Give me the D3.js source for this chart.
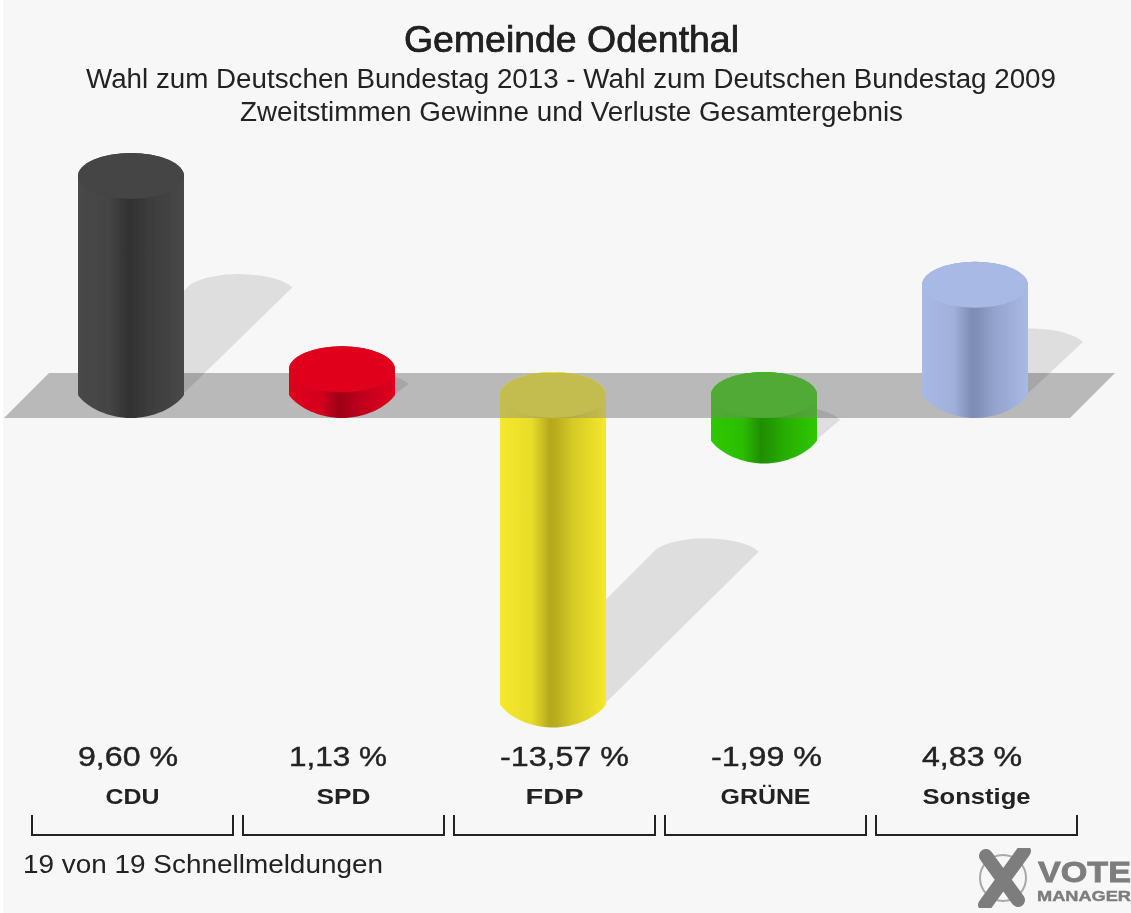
<!DOCTYPE html>
<html>
<head>
<meta charset="utf-8">
<script src="https://cdn.jsdelivr.net/npm/d3@7"></script>
<style>
  html, body { margin: 0; padding: 0; background: #fff; }
  svg { display: block; }
  text { font-family: "Liberation Sans", Arial, sans-serif; fill: #222; }
</style>
</head>
<body>
<div id="chart"></div>
<script>
// Werte
const parteien = ["CDU", "SPD", "FDP", "GRÜNE", "Sonstige"];
const werte = [9.60, 1.13, -13.57, -1.99, 4.83];
const werteText = ["9,60 %", "1,13 %", "-13,57 %", "-1,99 %", "4,83 %"];
const titelZeilen = [
  "Gemeinde Odenthal",
  "Wahl zum Deutschen Bundestag 2013 - Wahl zum Deutschen Bundestag 2009",
  "Zweitstimmen Gewinne und Verluste Gesamtergebnis"
];
const fussnote = "19 von 19 Schnellmeldungen";

// Farben: Rand, Mitte, Deckel
const farben = [
  ["#484848", "#323232", "#444444"],
  ["#e0001f", "#a00018", "#e0001f"],
  ["#f5e92c", "#b5a81e", "#f3e82c"],
  ["#2fc800", "#1f9000", "#2fc800"],
  ["#a9b9e5", "#7c8cb2", "#a9b9e5"]
];

const width = 1131, height = 913;
const rx = 53, ry = 23;

const svg = d3.select("#chart").append("svg")
  .attr("width", width)
  .attr("height", height);

const defs = svg.append("defs");
defs.append("filter").attr("id", "weich")
  .attr("x", "-5%").attr("y", "-5%").attr("width", "110%").attr("height", "110%")
  .append("feGaussianBlur").attr("stdDeviation", 0.75);

const x = d3.scaleBand()
  .domain(parteien)
  .range([32, 1077])
  .paddingInner(10 / 211);

// 0 liegt auf der Mitte des grauen Bandes
const y = d3.scaleLinear()
  .domain([0, 9.6])
  .range([395, 176]);

const mitte = d => x(d) + x.bandwidth() / 2 - 1.5;

const daten = parteien.map((p, i) => ({
  partei: p, wert: werte[i], text: werteText[i], farbe: farben[i], i: i
}));

farben.forEach((f, i) => {
  const mix = d3.interpolateRgb(f[0], f[1]);
  const g = defs.append("linearGradient").attr("id", "saeule" + i)
    .attr("x1", 0).attr("x2", 1).attr("y1", 0).attr("y2", 0);
  [[0, f[0]], [0.3, mix(0.2)], [0.47, f[1]], [0.54, mix(0.9)], [0.68, mix(0.5)], [1, f[0]]]
    .forEach(s => g.append("stop").attr("offset", s[0]).attr("stop-color", s[1]));
});

svg.append("rect")
  .attr("x", 3).attr("y", 0)
  .attr("width", width - 3).attr("height", height)
  .attr("fill", "#f7f7f7");

const bild = svg.append("g").attr("filter", "url(#weich)");

const bandPfad = `M4,418L49,373H${1115}L${1070},418Z`;
bild.append("path").attr("d", bandPfad).attr("fill", "#b9b9b9");
defs.append("clipPath").attr("id", "bandClip").append("path").attr("d", bandPfad);

// Schatten
bild.selectAll("path.schatten")
  .data(daten)
  .enter()
  .append("path")
  .attr("class", "schatten")
  .attr("fill", "rgba(0,0,0,0.1)")
  .attr("d", d => {
    const cx = mitte(d.partei);
    const fuss = y(Math.min(d.wert, 0));
    const h = Math.abs(y(d.wert) - y(0));
    const ex = cx + 0.49 * h, ey = fuss - Math.max(0.5 * h - 9, 0);
    return `M${cx - 48},${fuss - 4}L${ex - 48},${ey - 10}` +
      `A56,20 0 0 1 ${ex + 54},${ey - 7}` +
      `L${cx + 48},${fuss + 3}A53,23 0 0 1 ${cx - 48},${fuss - 4}Z`;
  });

// Säulenkörper von oben nach unten, unten läuft er etwas spitzer zu als der Deckel
function koerper(d) {
  const cx = mitte(d.partei);
  const oben = Math.min(y(d.wert), y(0));
  const unten = Math.max(y(d.wert), y(0));
  return `M${cx - rx},${oben}V${unten}` +
    `C${cx - 44},${unten + 13} ${cx - 22},${unten + ry} ${cx},${unten + ry}` +
    `C${cx + 22},${unten + ry} ${cx + 44},${unten + 13} ${cx + rx},${unten}` +
    `V${oben}A${rx},${ry} 0 0 0 ${cx - rx},${oben}Z`;
}
function deckelY(d) {
  return Math.min(y(d.wert), y(0));
}

const saeulen = bild.selectAll("g.saeule")
  .data(daten)
  .enter()
  .append("g")
  .attr("class", "saeule");

saeulen.append("path")
  .attr("d", koerper)
  .attr("fill", d => `url(#saeule${d.i})`);

saeulen.append("ellipse")
  .attr("cx", d => mitte(d.partei))
  .attr("cy", deckelY)
  .attr("rx", rx)
  .attr("ry", ry)
  .attr("fill", d => d.farbe[2]);

// Band liegt durchscheinend über den negativen Säulen
const ueber = bild.append("g").attr("clip-path", "url(#bandClip)");
ueber.selectAll("path")
  .data(daten.filter(d => d.wert < 0))
  .enter()
  .append("path")
  .attr("d", koerper)
  .attr("fill", "rgba(128,128,128,0.42)");

// Beschriftung
const texte = svg.append("g").attr("filter", "url(#weich)");

function zeile(inhalt, px, py, groesse, breite, gewicht) {
  return texte.append("text")
    .attr("x", px)
    .attr("y", py)
    .attr("font-size", groesse)
    .attr("font-weight", gewicht || "normal")
    .attr("textLength", breite)
    .attr("lengthAdjust", "spacingAndGlyphs")
    .text(inhalt);
}

zeile(titelZeilen[0], 404, 52, 37, 335)
  .style("stroke", "#111").style("stroke-width", 0.7);
zeile(titelZeilen[1], 86, 88, 27, 970);
zeile(titelZeilen[2], 240, 121, 27, 663);
zeile(fussnote, 23, 873, 26, 360);

const wertBreite = [100, 98, 129, 111, 100];
daten.forEach(d => {
  zeile(d.text, mitte(d.partei) - rx, 766, 27, wertBreite[d.i])
    .style("stroke", "#222").style("stroke-width", 0.4);
});

const namenBreite = [54, 54, 58, 90, 108];
daten.forEach(d => {
  const b = namenBreite[d.i];
  zeile(d.partei, x(d.partei) + x.bandwidth() / 2 - b / 2, 804, 22, b, "bold");
});

// Klammern
texte.selectAll("path.klammer")
  .data(parteien)
  .enter()
  .append("path")
  .attr("class", "klammer")
  .attr("fill", "none")
  .attr("stroke", "#222")
  .attr("stroke-width", 2)
  .attr("d", d => `M${x(d)},815V835H${x(d) + x.bandwidth()}V815`);

// Logo
const logo = svg.append("g").attr("filter", "url(#weich)");
logo.append("circle")
  .attr("cx", 1003).attr("cy", 878).attr("r", 23)
  .attr("fill", "none").attr("stroke", "#a9a9a9").attr("stroke-width", 2);
logo.append("path")
  .attr("d", "M986,856L1018,900M1024,851L985,905")
  .attr("stroke", "#7d7d7d").attr("stroke-width", 14).attr("stroke-linecap", "round").attr("fill", "none");
logo.append("text")
  .attr("x", 1038).attr("y", 882)
  .attr("font-size", 30).attr("font-weight", "bold")
  .attr("textLength", 93).attr("lengthAdjust", "spacingAndGlyphs")
  .style("fill", "#7d7d7d").style("stroke", "#7d7d7d").style("stroke-width", 0.8).text("VOTE");
logo.append("text")
  .attr("x", 1037).attr("y", 901)
  .attr("font-size", 14).attr("font-weight", "bold")
  .attr("textLength", 94).attr("lengthAdjust", "spacingAndGlyphs")
  .style("fill", "#7d7d7d").style("stroke", "#7d7d7d").style("stroke-width", 0.4).text("MANAGER");
</script>
</body>
</html>
